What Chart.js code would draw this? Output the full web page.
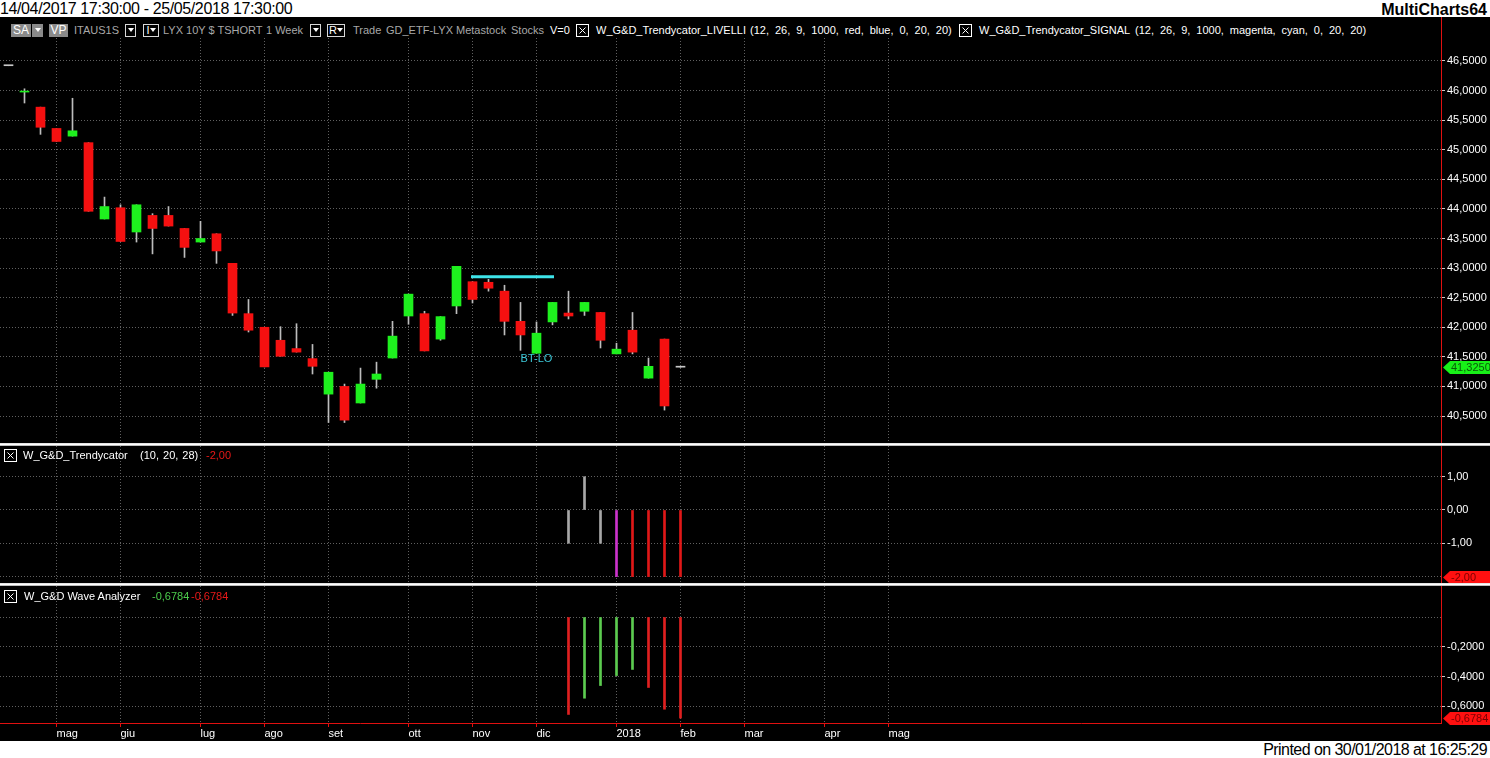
<!DOCTYPE html>
<html>
<head>
<meta charset="utf-8">
<title>LYX 10Y $ TSHORT - 1 Week</title>
<script src="https://cdn.jsdelivr.net/npm/chart.js@4.4.1/dist/chart.umd.min.js"></script>
<style>
  html, body { margin: 0; padding: 0; background: #fff; }
  body { width: 1490px; height: 758px; position: relative; overflow: hidden; font-family: "Liberation Sans", Arial, sans-serif; }
  .abs { position: absolute; white-space: nowrap; }
  #title { left: 0; top: 0; font-size: 16px; letter-spacing: -0.38px; line-height: 18px; color: #000; }
  #brand { right: 3px; top: 1px; font-size: 16px; font-weight: bold; line-height: 18px; color: #000; }
  #printed { right: 3px; top: 741px; font-size: 16px; letter-spacing: -0.55px; line-height: 17px; color: #000; }
  #black { left: 0; top: 17px; width: 1490px; height: 724px; background: #000; }
  canvas { position: absolute; left: 0; }
  .sep { left: 0; width: 1490px; height: 3px; background: linear-gradient(#d8d8d8, #ffffff, #a0a0a0); }
  .tb { top: 23px; font-size: 11px; line-height: 14px; color: #a8a8a8; }
  .hd { font-size: 11px; line-height: 14px; color: #fff; }
  .w { color: #fff; }
  .par { word-spacing: 2.9px; }
  .btn { top: 24px; height: 13px; background: #8a8a8a; color: #fff; font-size: 12px; line-height: 13px; text-align: center; }
  .obox { top: 24px; height: 11px; border: 1px solid #d8d8d8; background: #000; color: #fff; font-size: 11px; line-height: 11px; text-align: center; }
  .tri { display: inline-block; width: 0; height: 0; border-left: 3px solid transparent; border-right: 3px solid transparent; border-top: 4px solid #fff; vertical-align: middle; margin-top: -2px; }
</style>
</head>
<body>
<div id="title" class="abs">14/04/2017 17:30:00 - 25/05/2018 17:30:00</div>
<div id="brand" class="abs">MultiCharts64</div>
<div id="black" class="abs"></div>

<canvas id="priceCanvas" width="1490" height="426" style="top:17px"></canvas>
<canvas id="trendCanvas" width="1490" height="137" style="top:446px"></canvas>
<canvas id="waveCanvas" width="1490" height="155" style="top:586px"></canvas>

<div class="abs" style="left:0;top:17px;width:1441px;height:20px;background:#000"></div>
<div class="abs btn" style="left:11px;width:20px">SA</div>
<div class="abs btn" style="left:32px;width:11px"><span class="tri"></span></div>
<div class="abs btn" style="left:49px;width:19px">VP</div>
<span class="abs tb" style="left:74px">ITAUS1S</span>
<div class="abs obox" style="left:125px;width:9px"><span class="tri"></span></div>
<div class="abs obox" style="left:143px;width:14px">I<span class="tri"></span></div>
<span class="abs tb" style="left:163px">LYX 10Y $ TSHORT</span>
<span class="abs tb" style="left:266px">1 Week</span>
<div class="abs obox" style="left:310px;width:9px"><span class="tri"></span></div>
<div class="abs obox" style="left:327px;width:16px">R<span class="tri"></span></div>
<span class="abs tb" style="left:353px">Trade</span>
<span class="abs tb" style="left:386px">GD_ETF-LYX</span>
<span class="abs tb" style="left:456px">Metastock</span>
<span class="abs tb" style="left:511px">Stocks</span>
<span class="abs tb w" style="left:550px">V=0</span>
<svg class="abs" style="left:576px;top:24px" width="13" height="13"><rect x="0.5" y="0.5" width="12" height="12" fill="none" stroke="#fff"/><path d="M3.5 3.5L9.5 9.5M9.5 3.5L3.5 9.5" stroke="#fff"/></svg>
<span class="abs tb w" style="left:596px">W_G&amp;D_Trendycator_LIVELLI</span>
<span class="abs tb w par" style="left:750px">(12, 26, 9, 1000, red, blue, 0, 20, 20)</span>
<svg class="abs" style="left:959px;top:24px" width="13" height="13"><rect x="0.5" y="0.5" width="12" height="12" fill="none" stroke="#fff"/><path d="M3.5 3.5L9.5 9.5M9.5 3.5L3.5 9.5" stroke="#fff"/></svg>
<span class="abs tb w" style="left:979px">W_G&amp;D_Trendycator_SIGNAL</span>
<span class="abs tb w par" style="left:1135px">(12, 26, 9, 1000, magenta, cyan, 0, 20, 20)</span>

<div class="abs sep" style="top:443px"></div>
<div class="abs sep" style="top:583px"></div>

<svg class="abs" style="left:4px;top:449px" width="13" height="13"><rect x="0.5" y="0.5" width="12" height="12" fill="none" stroke="#fff"/><path d="M3.5 3.5L9.5 9.5M9.5 3.5L3.5 9.5" stroke="#fff"/></svg>
<span class="abs hd" style="left:23px;top:448px">W_G&amp;D_Trendycator</span>
<span class="abs hd par" style="left:140px;top:448px;word-spacing:1px">(10, 20, 28)</span>
<span id="trendNow" class="abs hd" style="left:206px;top:448px;color:#e81818"></span>

<svg class="abs" style="left:4px;top:590px" width="13" height="13"><rect x="0.5" y="0.5" width="12" height="12" fill="none" stroke="#fff"/><path d="M3.5 3.5L9.5 9.5M9.5 3.5L3.5 9.5" stroke="#fff"/></svg>
<span class="abs hd" style="left:24px;top:589px">W_G&amp;D Wave Analyzer</span>
<span id="waveNowA" class="abs hd" style="left:152px;top:589px;color:#4ccc4c"></span>
<span id="waveNowB" class="abs hd" style="left:191px;top:589px;color:#e81818"></span>

<div id="printed" class="abs">Printed on 30/01/2018 at 16:25:29</div>

<script>
// weekly bars (friday close), ITAUS1S
var weeks = [
  '14/04/17', '21/04/17', '28/04/17', '05/05/17', '12/05/17', '19/05/17', '26/05/17',
  '02/06/17', '09/06/17', '16/06/17', '23/06/17', '30/06/17', '07/07/17', '14/07/17',
  '21/07/17', '28/07/17', '04/08/17', '11/08/17', '18/08/17', '25/08/17', '01/09/17',
  '08/09/17', '15/09/17', '22/09/17', '29/09/17', '06/10/17', '13/10/17', '20/10/17',
  '27/10/17', '03/11/17', '10/11/17', '17/11/17', '24/11/17', '01/12/17', '08/12/17',
  '15/12/17', '22/12/17', '29/12/17', '05/01/18', '12/01/18', '19/01/18', '26/01/18',
  '02/02/18'
];
var opens  = [46.42, 45.975, 45.72, 45.36, 45.23, 45.12, 43.83, 44.02, 43.61, 43.89, 43.89, 43.67, 43.44, 43.58,
              43.08, 42.23, 42.00, 41.78, 41.64, 41.47, 40.87, 41.00, 40.72, 41.12, 41.48, 42.19, 42.23, 41.80,
              42.36, 42.77, 42.76, 42.61, 42.10, 41.56, 42.09, 42.24, 42.27, 42.25, 41.55, 41.95, 41.14, 41.80, 41.325];
var highs  = [46.42, 46.03, 45.72, 45.36, 45.87, 45.12, 44.20, 44.07, 44.07, 43.92, 44.04, 43.67, 43.79, 43.58,
              43.08, 42.47, 42.00, 42.01, 42.06, 41.71, 41.24, 41.04, 41.31, 41.41, 42.10, 42.56, 42.27, 42.18,
              43.03, 42.77, 42.81, 42.71, 42.42, 42.09, 42.42, 42.61, 42.42, 42.25, 41.73, 42.25, 41.48, 41.80, 41.325];
var lows   = [46.42, 45.79, 45.26, 45.14, 45.23, 43.96, 43.83, 43.45, 43.44, 43.24, 43.71, 43.18, 43.44, 43.08,
              42.20, 41.92, 41.33, 41.51, 41.58, 41.21, 40.39, 40.39, 40.72, 40.97, 41.48, 42.05, 41.60, 41.78,
              42.23, 42.41, 42.61, 41.87, 41.61, 41.56, 42.04, 42.14, 42.20, 41.65, 41.55, 41.55, 41.14, 40.60, 41.325];
var closes = [46.42, 45.99, 45.38, 45.14, 45.32, 43.96, 44.04, 43.45, 44.07, 43.67, 43.71, 43.35, 43.50, 43.29,
              42.24, 41.95, 41.33, 41.51, 41.58, 41.34, 41.24, 40.43, 41.04, 41.21, 41.85, 42.56, 41.60, 42.18,
              43.03, 42.47, 42.66, 42.10, 41.87, 41.90, 42.42, 42.19, 42.42, 41.78, 41.63, 41.58, 41.34, 40.67, 41.325];

var priceTicks = [40.5, 41, 41.5, 42, 42.5, 43, 43.5, 44, 44.5, 45, 45.5, 46, 46.5];
var monthTickWeek = [3, 7, 12, 16, 20, 25, 29, 33, 38, 42, 46, 51, 55];
var monthLabels = ['mag', 'giu', 'lug', 'ago', 'set', 'ott', 'nov', 'dic', '2018', 'feb', 'mar', 'apr', 'mag'];

// W_G&D_Trendycator_SIGNAL level and label
var signalFrom = '03/11/17', signalTo = '08/12/17', signalLevel = 42.855;
var btLoWeek = '01/12/17', btLoPrice = 41.47;

// indicators start on 15/12/17
var indicatorStart = '15/12/17';
var trendValues = [-1, 1, -1, -2, -2, -2, -2, -2];
var trendTicks = [1, 0, -1, -2];
var waveValues = [-0.654, -0.545, -0.46, -0.393, -0.352, -0.473, -0.619, -0.6784];
var waveTicks = [0, -0.2, -0.4, -0.6];

Chart.defaults.font.family = '"Liberation Sans", Arial, sans-serif';
Chart.defaults.font.size = 11;

var gridColor = '#606060';
var axisRed = '#e01010';
var upColor = '#1ef01e', downColor = '#f51010', flatColor = '#c8c8c8';

function comma(v, d) { return v.toFixed(d).replace('.', ','); }
function wk(label) { return weeks.indexOf(label); }

function weekAxis(showLabels) {
  return {
    type: 'linear', position: 'bottom', min: -0.53125, max: 89.53125, offset: false, bounds: 'data',
    afterBuildTicks: function (s) { s.ticks = monthTickWeek.map(function (v) { return { value: v }; }); },
    afterFit: function (s) { s.height = showLabels ? 18 : 0; s.paddingLeft = 0; s.paddingRight = 0; },
    ticks: {
      display: showLabels, autoSkip: false, maxRotation: 0, align: 'start', padding: 0, color: '#ffffff',
      callback: function (v, i) { return monthLabels[i]; }
    },
    grid: { color: gridColor, offset: false, drawTicks: showLabels, tickLength: 4, tickColor: axisRed, tickBorderDash: [] },
    border: { display: showLabels, color: axisRed, dash: [1, 2] }
  };
}

// hidden: tick values that carry no label on the right scale
function valueAxis(min, max, ticks, fmt, hidden) {
  return {
    type: 'linear', position: 'right', min: min, max: max, bounds: 'data', beginAtZero: false,
    afterBuildTicks: function (s) { s.ticks = ticks.map(function (v) { return { value: v }; }); },
    afterFit: function (s) { s.width = 49; s.paddingTop = 0; s.paddingBottom = 0; },
    ticks: {
      color: '#ffffff', padding: 2, autoSkip: false,
      callback: function (v) { return v === hidden ? '' : fmt(v); }
    },
    grid: {
      color: gridColor, tickLength: 4, tickBorderDash: [],
      tickColor: function (c) { return c.tick && c.tick.value === hidden ? 'rgba(0,0,0,0)' : '#c8c8c8'; }
    },
    border: { color: axisRed, dash: [1, 2] }
  };
}

function baseOptions(yAxis, showLabels) {
  return {
    responsive: false, animation: false,
    layout: { padding: 0 },
    plugins: { legend: { display: false }, tooltip: { enabled: false } },
    scales: { x: weekAxis(showLabels), y: yAxis }
  };
}

function lastValueTag(value, text, fill, ink) {
  return {
    id: 'lastValueTag',
    afterDraw: function (chart) {
      var ctx = chart.ctx;
      var y = Math.round(chart.scales.y.getPixelForValue(value)) + 0.5;
      var x = chart.chartArea.right + 2, r = chart.width;
      ctx.save();
      ctx.fillStyle = fill;
      ctx.beginPath();
      ctx.moveTo(x, y);
      ctx.lineTo(x + 7, y - 6.5);
      ctx.lineTo(r, y - 6.5);
      ctx.lineTo(r, y + 6.5);
      ctx.lineTo(x + 7, y + 6.5);
      ctx.closePath();
      ctx.fill();
      ctx.fillStyle = ink;
      ctx.font = '11px "Liberation Sans"';
      ctx.textBaseline = 'middle';
      ctx.fillText(text, x + 8, y + 0.5);
      ctx.restore();
    }
  };
}

var btLoLabel = {
  id: 'btLoLabel',
  afterDatasetsDraw: function (chart) {
    var ctx = chart.ctx;
    ctx.save();
    ctx.fillStyle = '#3cc8d8';
    ctx.font = '11px "Liberation Sans"';
    ctx.textAlign = 'center';
    ctx.textBaseline = 'middle';
    ctx.fillText('BT-LO', chart.scales.x.getPixelForValue(wk(btLoWeek)), chart.scales.y.getPixelForValue(btLoPrice));
    ctx.restore();
  }
};

// price panel
var candleColors = weeks.map(function (w, i) {
  return closes[i] > opens[i] ? upColor : (closes[i] < opens[i] ? downColor : flatColor);
});
var last = weeks.length - 1;

new Chart(document.getElementById('priceCanvas'), {
  type: 'bar',
  data: {
    datasets: [{
      label: 'wick',
      data: weeks.map(function (w, i) { return { x: i, y: [lows[i], highs[i]] }; }),
      backgroundColor: '#bdbdbd',
      barThickness: 1, grouped: false, order: 3
    }, {
      label: 'body',
      data: weeks.map(function (w, i) { return { x: i, y: [opens[i], closes[i]] }; }),
      backgroundColor: candleColors,
      barThickness: 9, grouped: false, minBarLength: 1, order: 2
    }, {
      type: 'line',
      label: 'signal',
      data: [{ x: wk(signalFrom), y: signalLevel }, { x: wk(signalTo), y: signalLevel }],
      borderColor: '#3ee4ea', borderWidth: 3, borderCapStyle: 'square', pointRadius: 0, order: 1
    }]
  },
  options: baseOptions(valueAxis(40.0439, 47.2435, priceTicks, function (v) { return comma(v, 4); }, null), false),
  plugins: [btLoLabel, lastValueTag(closes[last], comma(closes[last], 4), '#18f018', '#0a5a0a')]
});

// W_G&D_Trendycator panel
var start = wk(indicatorStart);
var trendColors = trendValues.map(function (v, k) {
  if (v > -2) return '#a8a8a8';
  return (k > 0 && trendValues[k - 1] === -2) ? '#e01818' : '#cc33cc';
});
var trendLast = trendValues[trendValues.length - 1];

new Chart(document.getElementById('trendCanvas'), {
  type: 'bar',
  data: {
    datasets: [{
      label: 'trendycator',
      data: trendValues.map(function (v, k) { return { x: start + k, y: v }; }),
      backgroundColor: trendColors,
      barThickness: 2, grouped: false
    }]
  },
  options: baseOptions(valueAxis(-2.1922, 1.9219, trendTicks, function (v) { return comma(v, 2); }, -2), false),
  plugins: [lastValueTag(trendLast, comma(trendLast, 2), '#ff1010', '#7a0000')]
});

// W_G&D Wave Analyzer panel
var waveColors = waveValues.map(function (v, k) {
  var prev = k > 0 ? waveValues[k - 1] : 0;
  return v > prev ? '#5ccc50' : '#e02020';
});
var waveLast = waveValues[waveValues.length - 1];

new Chart(document.getElementById('waveCanvas'), {
  type: 'bar',
  data: {
    datasets: [{
      label: 'wave',
      data: waveValues.map(function (v, k) { return { x: start + k, y: v }; }),
      backgroundColor: waveColors,
      barThickness: 2, grouped: false
    }]
  },
  options: baseOptions(valueAxis(-0.7114, 0.2081, waveTicks, function (v) { return comma(v, 4); }, 0), true),
  plugins: [lastValueTag(waveLast, comma(waveLast, 4), '#ff1010', '#7a0000')]
});

document.getElementById('trendNow').textContent = comma(trendLast, 2);
document.getElementById('waveNowA').textContent = comma(waveLast, 4);
document.getElementById('waveNowB').textContent = comma(waveLast, 4);
</script>
</body>
</html>
